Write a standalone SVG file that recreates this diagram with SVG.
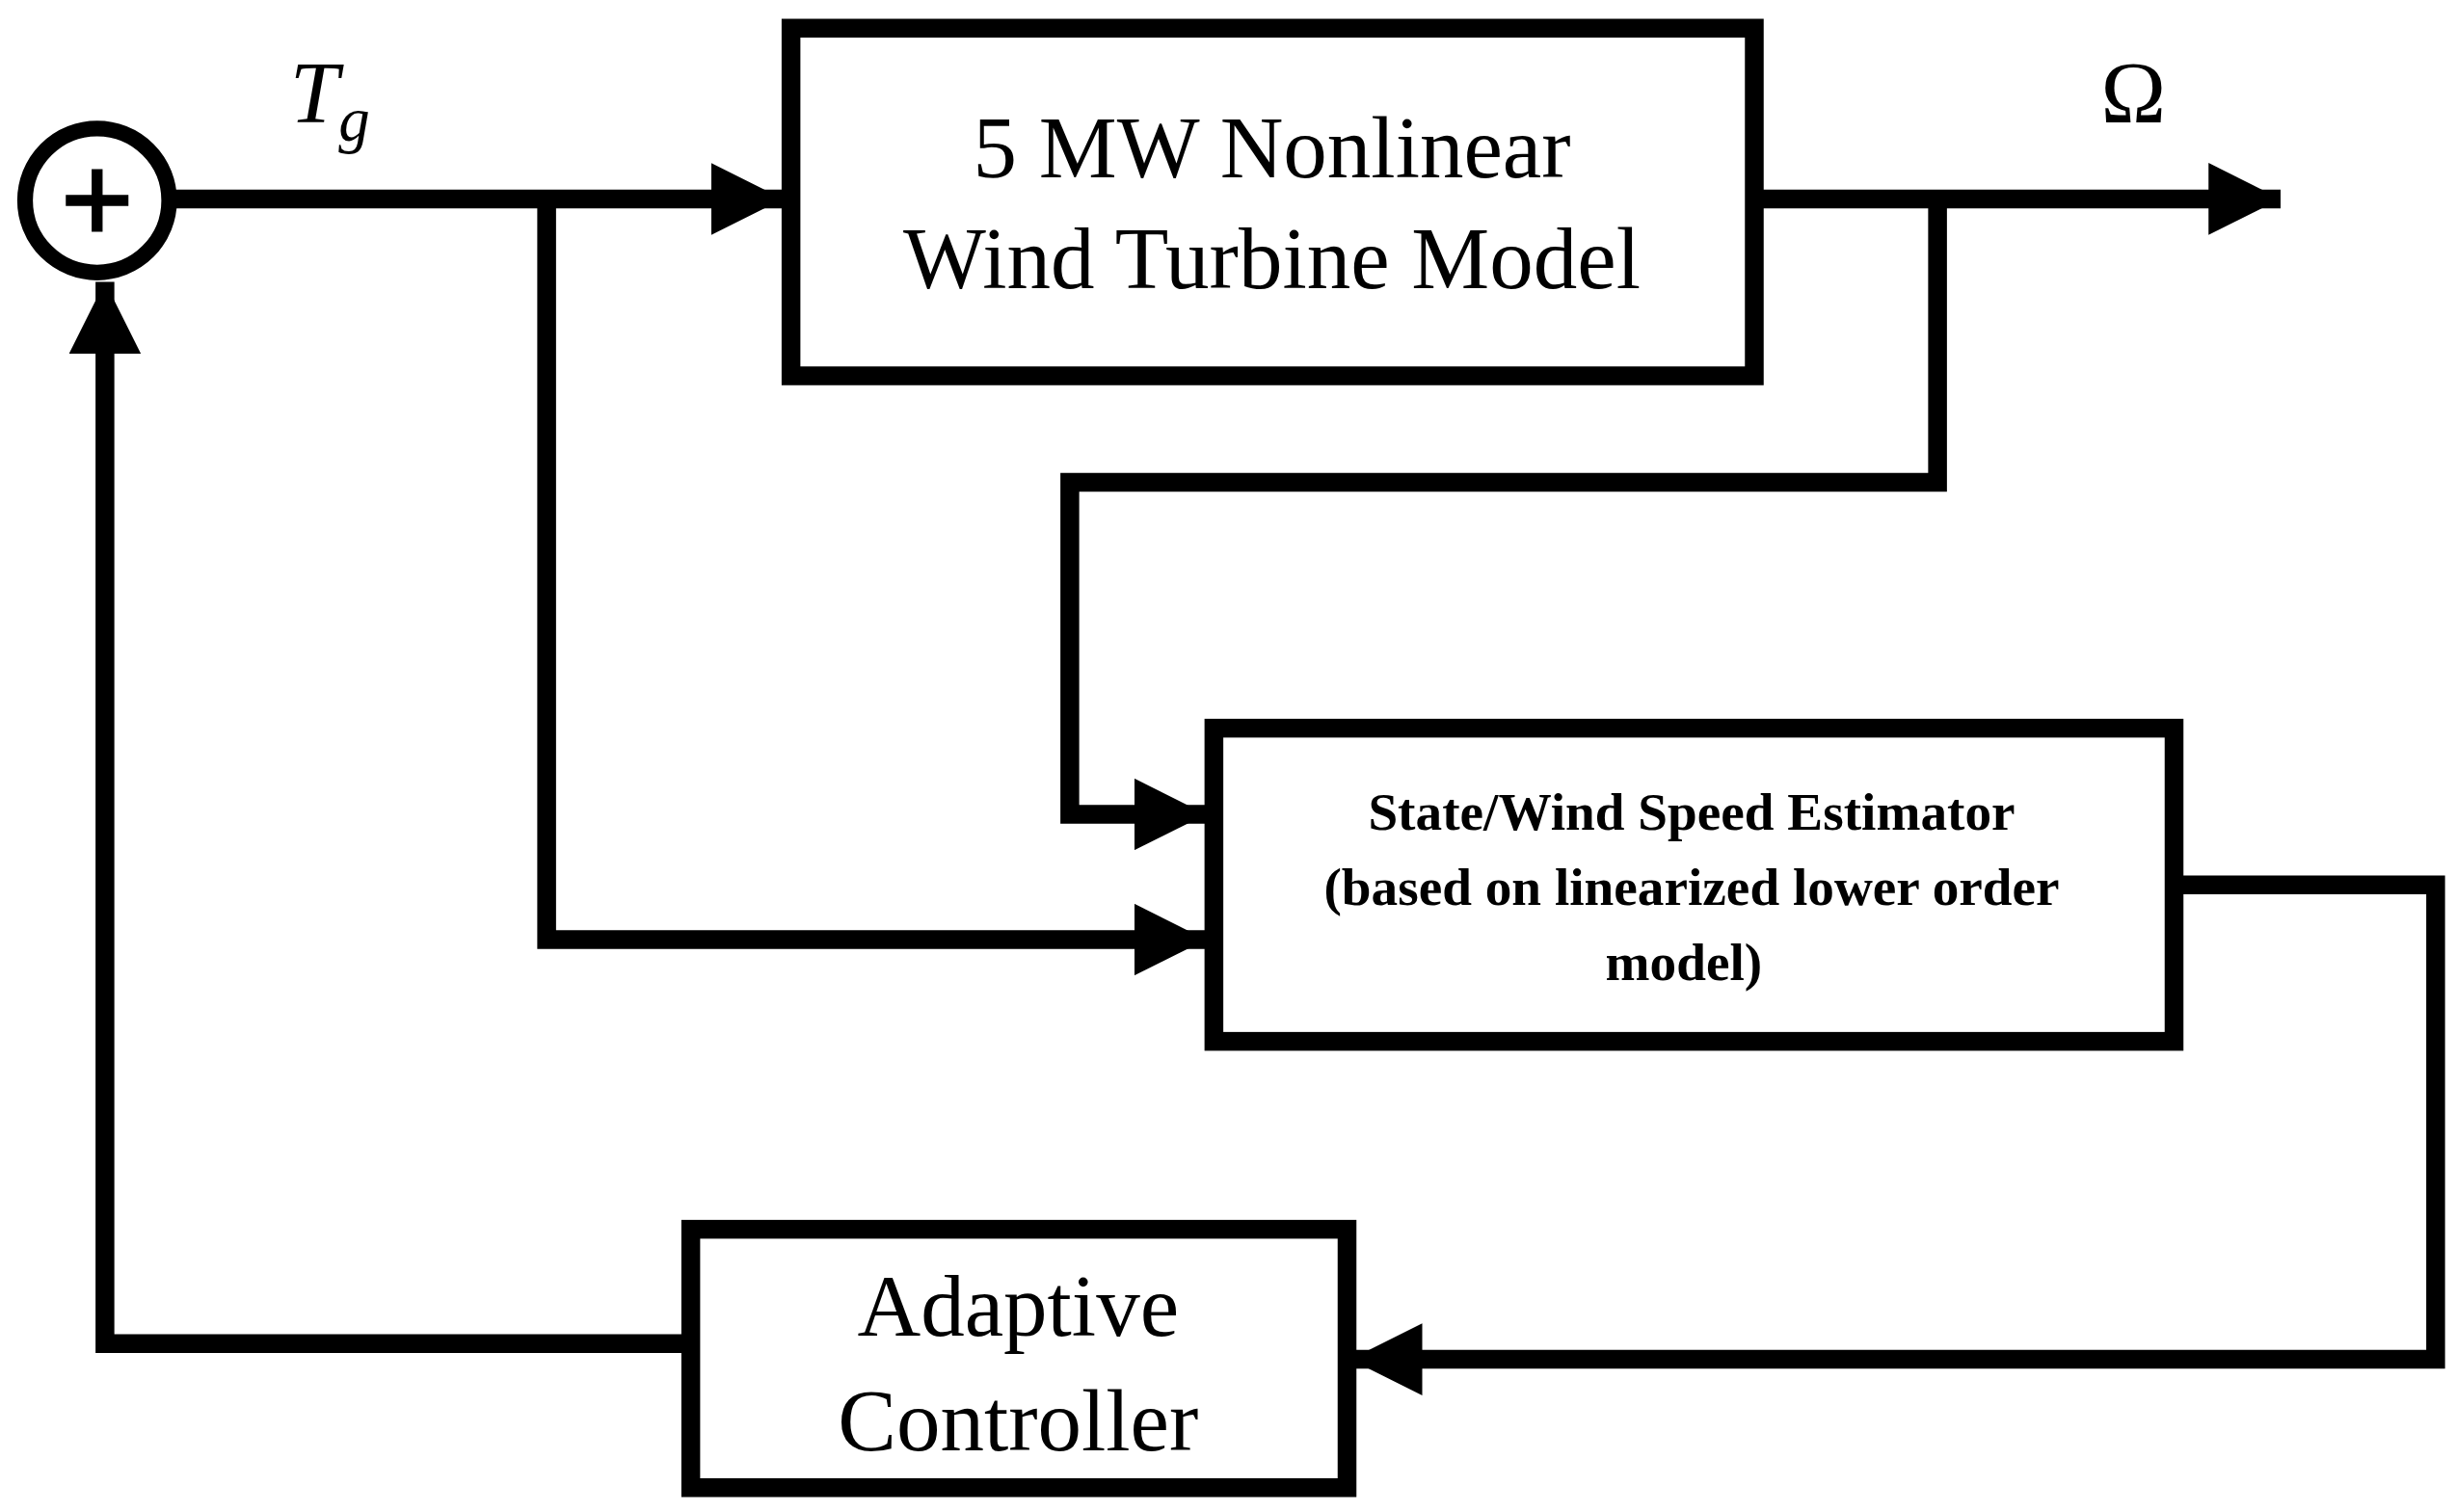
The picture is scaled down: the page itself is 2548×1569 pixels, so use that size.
<svg xmlns="http://www.w3.org/2000/svg" width="2548" height="1569" viewBox="0 0 2548 1569">
<style>
.ln{fill:none;stroke:#000;stroke-width:12;stroke-linejoin:miter}
.bx{fill:#fff;stroke:#000;stroke-width:12}
.t{font-family:"Liberation Serif",serif;text-anchor:middle;fill:#000}
</style>
<defs>
<marker id="ah" markerUnits="userSpaceOnUse" markerWidth="46" markerHeight="46" refX="46" refY="23" orient="auto">
<path d="M0,0 L46,23 L0,46 Z" fill="#000"/>
</marker>
</defs>
<rect width="2548" height="1569" fill="#fff"/>
<g transform="scale(1.625)">
<g id="connectors">
<path class="ln" d="M110,127 H500" marker-end="url(#ah)"/>
<path class="ln" d="M1120,127 H1456" marker-end="url(#ah)"/>
<path class="ln" d="M1237,127 V308 H683 V520 H770" marker-end="url(#ah)"/>
<path class="ln" d="M349,127 V606 M343,600 H770" marker-end="url(#ah)"/>
<path class="ln" d="M1388,565 H1555 V868 H862" marker-end="url(#ah)"/>
<path class="ln" d="M440,858 H67 V180" marker-end="url(#ah)"/>
</g>
<g id="sum">
<circle cx="62" cy="128" r="46" fill="#fff" stroke="#000" stroke-width="10"/>
<path d="M62,108 V148 M42,128 H82" stroke="#000" stroke-width="7"/>
</g>
<g id="labels">
<text x="185" y="78" font-family="Liberation Serif,serif" font-style="italic" font-size="56">T<tspan font-size="40" dy="12">g</tspan></text>
<text x="1362" y="78" class="t" font-size="56">Ω</text>
</g>
<g id="plant">
<rect class="bx" x="505" y="18" width="615" height="222"/>
<text class="t" x="812" y="113" font-size="56">5 MW Nonlinear</text>
<text class="t" x="812" y="184" font-size="56">Wind Turbine Model</text>
</g>
<g id="estimator">
<rect class="bx" x="775" y="465" width="613" height="200"/>
<text class="t" x="1080" y="530" font-size="34" font-weight="bold">State/Wind Speed Estimator</text>
<text class="t" x="1080" y="578" font-size="34" font-weight="bold">(based on linearized lower order</text>
<text class="t" x="1075" y="626" font-size="34" font-weight="bold">model)</text>
</g>
<g id="controller">
<rect class="bx" x="441" y="785" width="419" height="165"/>
<text class="t" x="650" y="853" font-size="56">Adaptive</text>
<text class="t" x="650" y="926" font-size="56">Controller</text>
</g>
</g>
</svg>
